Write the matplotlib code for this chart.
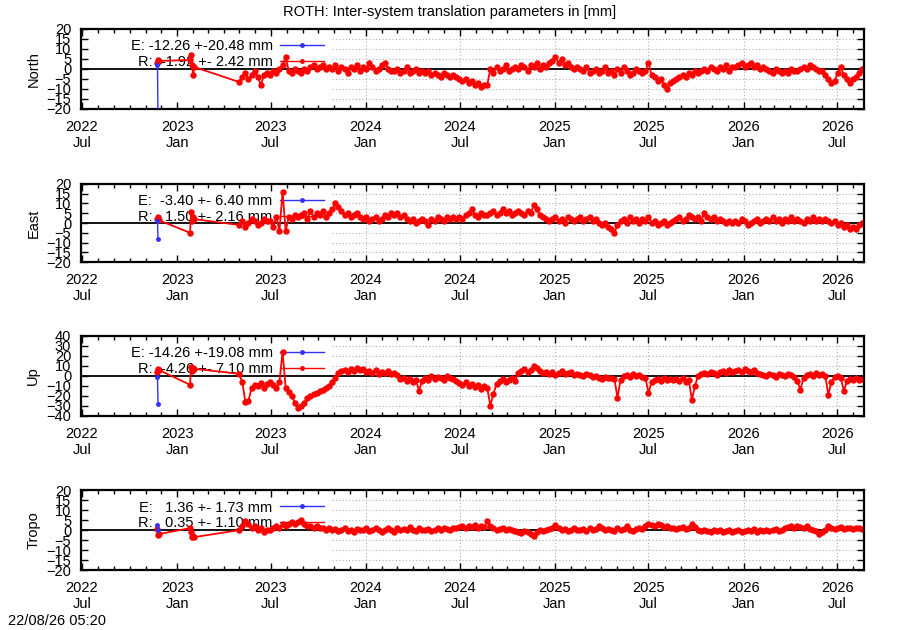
import matplotlib
matplotlib.use('Agg')
import matplotlib.pyplot as plt
import matplotlib.dates as mdates
from matplotlib.ticker import MultipleLocator
import pandas as pd

plt.rcParams['font.family'] = ['Liberation Sans', 'DejaVu Sans']
plt.rcParams['font.size'] = 10.5

# E series: two early solutions
e_dates = pd.to_datetime(['2022-11-24', '2022-11-25'])
north_e = [2.2, -26.7]
east_e = [1.13, -7.93]
up_e = [-0.77, -27.75]
tropo_e = [2.58, 0.14]

# R series: a few early points, then regular solutions every 6 days
r_early_dates = pd.to_datetime(['2022-11-24', '2022-11-25', '2022-11-26', '2023-01-26',
                                '2023-01-28', '2023-01-30', '2023-02-01', '2023-02-03'])
r_dense_dates = pd.date_range('2023-05-01', periods=202, freq='6D')
r_dates = r_early_dates.append(r_dense_dates)

north_r = [3, 4.5, 4, 4.5, 7, 2, -3, 1,
           -6.5, -4, -2, -5, -3, -1, -4, -8, -3, -2,
           -3, -1, -2, 0, 2, 6, -1, -2, 0, -1,
           -2, 0, -1, 1, 2, 0, 1, 2, 0, 1,
           0, 2, -1, 1, 0, -2, 1, 0, 2, -1,
           1, 0, 3, 1, -1, 0, 2, 3, 0, -1,
           -1, 0, -2, -1, 1, -2, -1, 0, -2, -1,
           -2, -1, -3, -2, -3, -4, -2, -3, -4, -3,
           -4, -5, -6, -5, -7, -6, -8, -7, -9, -8,
           -8, 0, -2, 1, -1, 0, 2, -1, 0, 1,
           0, 2, 1, -1, 2, 1, 3, 0, 2, 1,
           3, 4, 6, 3, 5, 2, 3, 1, 0, 1,
           0, -1, 1, -2, -1, 0, -2, -1, 1, -2,
           -1, -3, 0, -2, 1, -1, -3, -2, 0, -1,
           -2, -1, 3, -3, -4, -6, -5, -8, -10, -7,
           -6, -5, -4, -3, -4, -2, -3, -1, -2, -1,
           0, -1, 1, 0, -1, 1, 0, 2, -1, 1,
           1, 2, 3, 1, 2, 3, 1, 2, 0, 1,
           0, -1, -2, 0, -1, -2, -1, -2, 0, -1,
           -1, 0, 1, 0, 2, 1, 0, -1, -1, -3,
           -5, -7, -6, -2, 1, -3, -5, -7, -5, -4,
           -2, 0]

east_r = [2, 3, 1.5, -5, 5.5, 1, 3, 2,
          -1, 1, -2, 0, 2, 1, -1, 0, 2, 1,
          1, -2, 3, -4, 16, -4, 3, 2, 4, 3,
          4, 5, 2, 6, 3, 5, 4, 6, 3, 5,
          7, 10, 8, 6, 4, 5, 3, 4, 5, 3,
          2, 3, 1, 2, 3, 1, 2, 4, 3, 5,
          4, 5, 3, 4, 2, 1, 2, 0, 1, 2,
          1, -1, 2, 1, 3, 2, 1, 3, 2, 3,
          2, 3, 2, 4, 5, 7, 4, 3, 5, 4,
          4, 5, 6, 4, 5, 7, 5, 6, 4, 5,
          6, 5, 4, 6, 5, 9, 7, 4, 3, 2,
          1, 2, 3, 1, 2, 0, 3, 2, 1, 2,
          3, 1, 2, 3, 1, 2, 0, -1, 0, -2,
          -3, -5, -1, 1, 2, 0, 3, 1, 2, 0,
          2, 1, 3, 0, 1, -1, 0, 1, -1, 0,
          1, 2, 3, 1, 2, 4, 3, 2, 3, 1,
          5, 3, 2, 3, 1, 2, 1, 0, 1, 0,
          1, 0, 2, 1, -1, 0, 1, 2, 0, 1,
          2, 1, 3, 1, 2, 0, 2, 1, 3, 1,
          2, 1, 0, 2, 1, 3, 1, 2, 1, 2,
          1, 0, 1, -1, 0, -2, -1, -3, -2, -3,
          -1, 0]

up_r = [4, 7, 6, -9, 9, 5, 8, 7,
        2, -6, -26, -25, -12, -9, -10, -7, -12, -8,
        -6, -9, -12, -6, 24, -12, -16, -20, -27, -32,
        -30, -27, -22, -20, -18, -17, -15, -14, -12, -10,
        -6, -2, 3, 5, 6, 4, 7, 5, 8, 6,
        7, 4, 5, 3, 6, 2, 4, 3, 5, 2,
        3, 1, -3, -2, -5, -3, -6, -4, -15, -5,
        -2, -4, 0, -3, -1, -2, -4, 0, -2, -3,
        -5, -7, -9, -6, -10, -8, -11, -9, -13, -10,
        -12, -30, -18, -8, -5, -3, -6, -4, -2, -5,
        3, 5, 7, 4, 6, 10, 8, 5, 3, 4,
        2, 4, 1, 3, 5, 2, 3, 4, 1, 2,
        1, 0, 2, 1, -1, 0, -2, -3, -1, -2,
        -2, -3, -22, -4, 0, 1, -1, 2, 0, 1,
        -1, -2, -17, -6, -4, -3, -5, -2, -4, -3,
        -4, -3, -5, -2, -6, -4, -24, -10, 0, 2,
        3, 2, 4, 3, 1, 4, 5, 3, 6, 4,
        5, 6, 4, 7, 5, 4, 6, 3, 2, 1,
        0, 2, 1, -1, 2, 1, 0, 2, 1, -1,
        -5, -14, -2, 1, 2, 0, 3, 1, 2, 0,
        -19, -6, -1, 0, -2, -15, -5, -3, -4, -2,
        -4, -3]

tropo_r = [0.5, -2.5, -2, 1, -1, -3.5, -3, -3.5,
           0, 2, 4.5, 3, 1, 2, 0, 1, -1, 0,
           0, 1, 2, 1, 3, 2, 3, 4, 3, 4,
           5, 3, 2, 2, 1, 2, 1, 1, 0, 1,
           0, 0.5, -0.5, 0, 1, -0.5, 0, -1, 0.5, 0,
           0, 1, -0.5, 0, 1, 0, -1, 0, 1, 0,
           -1, 1, 0, 0.5, 0, 1.5, 0, -0.5, 1, 0,
           0, 0.5, -0.5, 0, 1, 0, 1, 0.5, 0, 1,
           1, 1.5, 2, 1, 2, 1.5, 2.5, 1, 2, 1.5,
           4.5, 2, 1, 0, 0.5, 1, 0, 0.5, 0, -0.5,
           -1, -1.5, -0.5, -1, -2, -3, -1, 0, -0.5, 0,
           0.5, 1, 2.5, 1, 0, 0.5, -0.5, 0, 1, 0,
           0, 0.5, -0.5, 1, 0, 0.5, 2, 1, 0, 0.5,
           0, -0.5, 1, 0, 0.5, 2, 0, -0.5, 0.5, 1,
           0.5, 2, 3, 2.5, 2, 3, 2.5, 1.5, 2, 1,
           1, 0.5, 1, 1.5, 0.5, 1, 3, 1.5, 0, -0.5,
           0, -0.5, -1, 0, -0.5, 0, -1, -0.5, 0, -1,
           -0.5, 0, -1, -0.5, 0, -0.5, 0.5, -1, 0, -0.5,
           0, -0.5, 0, 0.5, -0.5, 0, 1, 1.5, 2, 1,
           2, 1.5, 1, 2, 0.5, 0, -0.5, -2, -1, 0,
           2, 1, 0.5, 1, 1.5, 0.5, 1, 1, 0.5, 1,
           1, 0.5]

names = ['North', 'East', 'Up', 'Tropo']
e_series = [north_e, east_e, up_e, tropo_e]
r_series = [north_r, east_r, up_r, tropo_r]
e_labels = ['E: -12.26 +-20.48 mm', 'E:  -3.40 +- 6.40 mm',
            'E: -14.26 +-19.08 mm', 'E:   1.36 +- 1.73 mm']
r_labels = ['R:  -1.92 +- 2.42 mm', 'R:   1.50 +- 2.16 mm',
            'R:  -4.26 +- 7.10 mm', 'R:   0.35 +- 1.10 mm']
y_limits = [20, 20, 40, 20]
y_steps = [5, 5, 10, 5]

x_start = pd.Timestamp('2022-06-29')
x_end = pd.Timestamp('2026-08-22')
grid_from = 0.32  # key box hides the grid on the left part

fig = plt.figure(figsize=(9, 6.3), dpi=100)
boxes = [(0.09, 0.827, 0.87, 0.127),
         (0.09, 0.584, 0.87, 0.124),
         (0.09, 0.340, 0.87, 0.127),
         (0.09, 0.095, 0.87, 0.127)]

for i in range(4):
    ax = fig.add_axes(boxes[i])
    lim = y_limits[i]
    ax.set_xlim(x_start, x_end)
    ax.set_ylim(-lim, lim)
    ax.yaxis.set_major_locator(MultipleLocator(y_steps[i]))
    ax.xaxis.set_major_locator(mdates.MonthLocator(bymonth=[1, 7]))
    ax.xaxis.set_minor_locator(mdates.MonthLocator())
    ax.xaxis.set_major_formatter(mdates.DateFormatter('%Y\n%b'))
    ax.tick_params(which='both', direction='in', top=True, right=True, width=1)
    ax.tick_params(which='major', length=5)
    ax.tick_params(which='minor', length=3)
    ax.tick_params(axis='x', pad=8)
    ax.tick_params(axis='y', pad=7)
    for s in ax.spines.values():
        s.set_linewidth(1.6)

    # dotted grid, only right of the key area
    for y in ax.get_yticks():
        if -lim < y < lim and y != 0:
            ax.axhline(y, xmin=grid_from, color='#b0b0b0', lw=0.8, ls=(0, (1, 2)), zorder=0.5)
    x0, x1 = ax.get_xlim()
    for x in ax.get_xticks():
        if (x - x0) / (x1 - x0) > grid_from:
            ax.axvline(x, color='#b0b0b0', lw=0.8, ls=(0, (1, 2)), zorder=0.5)

    ax.axhline(0, color='black', lw=1.3, zorder=1.5)
    lE, = ax.plot(e_dates, e_series[i], color='#3030ff', lw=1, marker='o', ms=2.5, zorder=3)
    lR, = ax.plot(r_dates, r_series[i], color='red', lw=1.3, marker='o', ms=3.6, zorder=2)

    leg = ax.legend([lE, lR], [e_labels[i], r_labels[i]], loc='upper right',
                    bbox_to_anchor=(0.31, 0.87), frameon=False, markerfirst=False,
                    handlelength=3.0, handletextpad=0.5, borderaxespad=0, borderpad=0,
                    labelspacing=0.12, fontsize=10.5)
    for h in leg.legend_handles:
        h.set_markersize(2.5)
        h.set_linewidth(1)
    leg.set_zorder(1.6)

    ax.set_ylabel(names[i])
    ax.yaxis.set_label_coords(-0.052, 0.5)

fig.text(0.5, 0.981, 'ROTH: Inter-system translation parameters in [mm]', ha='center', va='center')
fig.text(0.009, 0.014, '22/08/26 05:20', ha='left', va='center')

fig.savefig('out.png', dpi=100)
